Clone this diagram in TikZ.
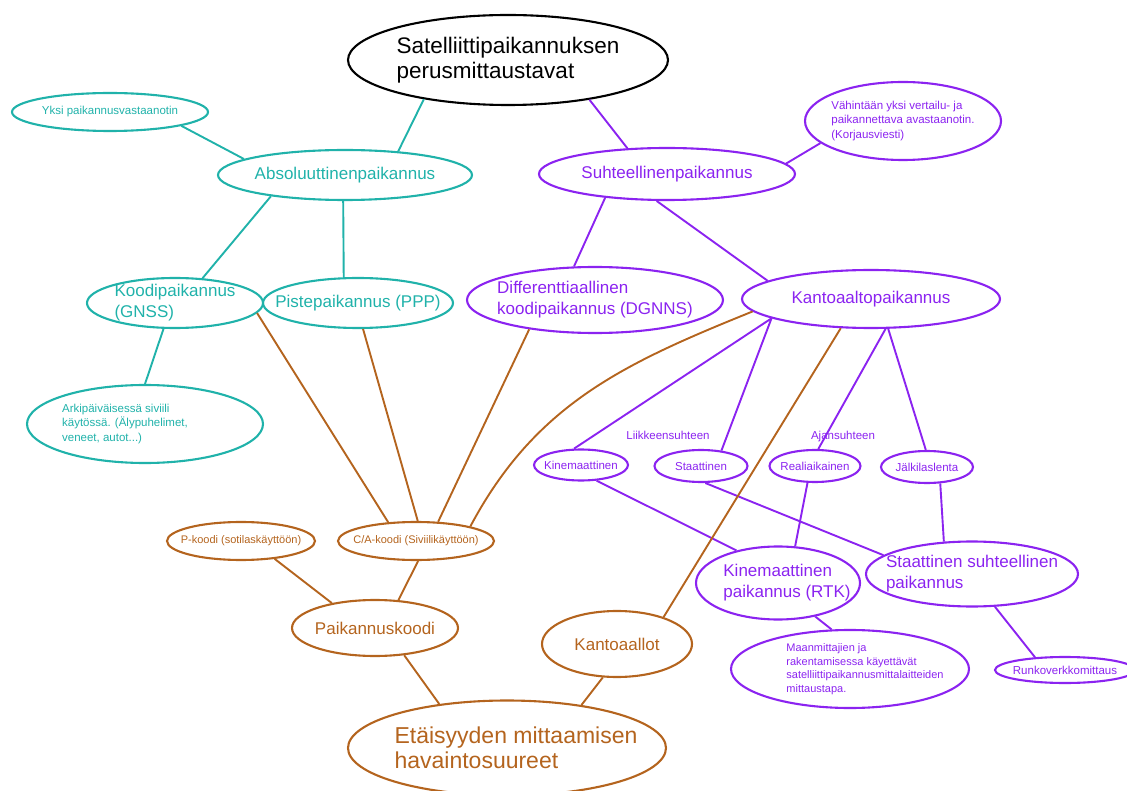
\documentclass[tikz,border=0pt]{standalone}
\usepackage{fontspec}
\setmainfont{Liberation Sans}
\usepackage{xcolor}
\usepackage{tikz}
\usetikzlibrary{shapes}

\definecolor{absc}{RGB}{32,178,170}
\definecolor{relc}{RGB}{139,35,240}
\definecolor{meac}{RGB}{180,100,30}

\begin{document}
\begin{tikzpicture}[
    x=1pt, y=-1pt,
    bubble/.style={ellipse, draw, line width=2.1pt, inner sep=0pt},
    absnode/.style={bubble, draw=absc},
    relnode/.style={bubble, draw=relc},
    meanode/.style={bubble, draw=meac},
    big/.style={font=\fontsize{22.5}{25}\selectfont, align=left},
    mid/.style={font=\fontsize{17}{21}\selectfont, align=left},
    small/.style={font=\fontsize{11.5}{14.5}\selectfont, align=left},
    tiny/.style={font=\fontsize{11}{13.5}\selectfont, align=left},
    abslink/.style={draw=absc, line width=1.9pt},
    rellink/.style={draw=relc, line width=1.9pt},
    mealink/.style={draw=meac, line width=1.9pt}
]
\useasboundingbox (0,0) rectangle (1127,791);

% Top level
\node[bubble, minimum width=320, minimum height=90,
      label={[big]center:{Satelliittipaikannuksen\\perusmittaustavat}}] (top) at (508,60) {};

% Absolute branch
\node[absnode, minimum width=196, minimum height=38,
      label={[small, text=absc]center:{Yksi paikannusvastaanotin}}] (yksi) at (110,112) {};
\node[absnode, minimum width=254, minimum height=50,
      label={[mid, text=absc]center:{Absoluuttinenpaikannus}}] (absol) at (345,175) {};
\node[absnode, minimum width=176, minimum height=50,
      label={[mid, text=absc]center:{Koodipaikannus\\(GNSS)}}] (koodi) at (175,303) {};
\node[absnode, minimum width=190, minimum height=50,
      label={[mid, text=absc]center:{Pistepaikannus (PPP)}}] (piste) at (358,303) {};
\node[absnode, minimum width=236, minimum height=78,
      label={[small, text=absc, xshift=-20pt]center:{Arkipäiväisessä siviili\\käytössä. (Älypuhelimet,\\veneet, autot...)}}] (arki) at (145,424) {};

% Relative branch
\node[relnode, minimum width=196, minimum height=78,
      label={[small, text=relc]center:{Vähintään yksi vertailu- ja\\paikannettava avastaanotin.\\(Korjausviesti)}}] (vahint) at (903,121) {};
\node[relnode, minimum width=256, minimum height=52,
      label={[mid, text=relc]center:{Suhteellinenpaikannus}}] (suht) at (667,174) {};
\node[relnode, minimum width=256, minimum height=66,
      label={[mid, text=relc]center:{Differenttiaallinen\\koodipaikannus (DGNNS)}}] (dgnss) at (595,300) {};
\node[relnode, minimum width=258, minimum height=58,
      label={[mid, text=relc]center:{Kantoaaltopaikannus}}] (kanto) at (871,299) {};

% Fourth level
\node[small, text=relc] (liike) at (668,435) {Liikkeensuhteen};
\node[small, text=relc] (ajan) at (843,437) {Ajansuhteen};
\node[relnode, minimum width=94, minimum height=31,
      label={[small, text=relc]center:{Kinemaattinen}}] (kin) at (581,465) {};
\node[relnode, minimum width=93, minimum height=32,
      label={[small, text=relc]center:{Staattinen}}] (staat) at (701,466) {};
\node[relnode, minimum width=91, minimum height=32,
      label={[small, text=relc]center:{Realiaikainen}}] (reali) at (815,466) {};
\node[relnode, minimum width=92, minimum height=32,
      label={[small, text=relc]center:{Jälkilaslenta}}] (jalki) at (927,467) {};

\node[relnode, minimum width=164, minimum height=73,
      label={[mid, text=relc, xshift=9pt]center:{Kinemaattinen\\paikannus (RTK)}}] (rtk) at (778,583) {};
\node[relnode, minimum width=212, minimum height=65,
      label={[mid, text=relc]center:{Staattinen suhteellinen\\paikannus}}] (stsuht) at (972,574) {};
\node[relnode, minimum width=238, minimum height=78,
      label={[tiny, text=relc, xshift=15pt]center:{Maanmittajien ja\\rakentamisessa käyettävät\\satelliittipaikannusmittalaitteiden\\mittaustapa.}}] (maan) at (850,669) {};
\node[relnode, minimum width=140, minimum height=26,
      label={[small, text=relc]center:{Runkoverkkomittaus}}] (runko) at (1065,670) {};

% Measurement quantities
\node[meanode, minimum width=148, minimum height=38,
      label={[tiny, text=meac]center:{P-koodi (sotilaskäyttöön)}}] (pkoodi) at (241,541) {};
\node[meanode, minimum width=156, minimum height=38,
      label={[tiny, text=meac]center:{C/A-koodi (Siviilikäyttöön)}}] (cakoodi) at (416,541) {};
\node[meanode, minimum width=166, minimum height=56,
      label={[mid, text=meac]center:{Paikannuskoodi}}] (paik) at (375,628) {};
\node[meanode, minimum width=150, minimum height=66,
      label={[mid, text=meac]center:{Kantoaallot}}] (kantoal) at (617,644) {};
\node[meanode, minimum width=318, minimum height=95,
      label={[font=\fontsize{23}{25}\selectfont, align=left, text=meac, xshift=9pt]center:{Etäisyyden mittaamisen\\havaintosuureet}}] (etai) at (507,748) {};

% Links
\draw[abslink] (top.205) -- (absol.24);
\draw[abslink] (yksi.349) -- (absol.171);
\draw[abslink] (absol.196) -- (koodi.42);
\draw[abslink] (absol.266) -- (piste.119);
\draw[abslink] (koodi.246) -- (arki.90);

\draw[rellink] (top.334) -- (suht.147);
\draw[rellink] (suht.5) -- (vahint.195);
\draw[rellink] (suht.201) -- (dgnss.122);
\draw[rellink] (suht.249) -- (kanto.170);
\draw[rellink] (kanto.191) -- (kin.113);
\draw[rellink] (kanto.191) -- (staat.37);
\draw[rellink] (kanto.296) -- (reali.79);
\draw[rellink] (kanto.300) -- (jalki.94);
\draw[rellink] (kin.315) -- (rtk.142);
\draw[rellink] (staat.284) -- (stsuht.168);
\draw[rellink] (reali.246) -- (rtk.65);
\draw[rellink] (jalki.309) -- (stsuht.131);
\draw[rellink] (rtk.318) -- (maan.115);
\draw[rellink] (stsuht.305) -- (runko.157);

\draw[mealink] (koodi.353) -- (cakoodi.146);
\draw[mealink] (piste.281) -- (cakoodi.85);
\draw[mealink] (dgnss.204) -- (cakoodi.41);
\draw[mealink] (cakoodi.15) to[out=62, in=202] (kanto.186);
\draw[mealink] (kanto.224) -- (kantoal.30);
\draw[mealink] (pkoodi.332) -- (paik.150);
\draw[mealink] (cakoodi.276) -- (paik.50);
\draw[mealink] (paik.317) -- (etai.147);
\draw[mealink] (kantoal.247) -- (etai.30);

\end{tikzpicture}
\end{document}
